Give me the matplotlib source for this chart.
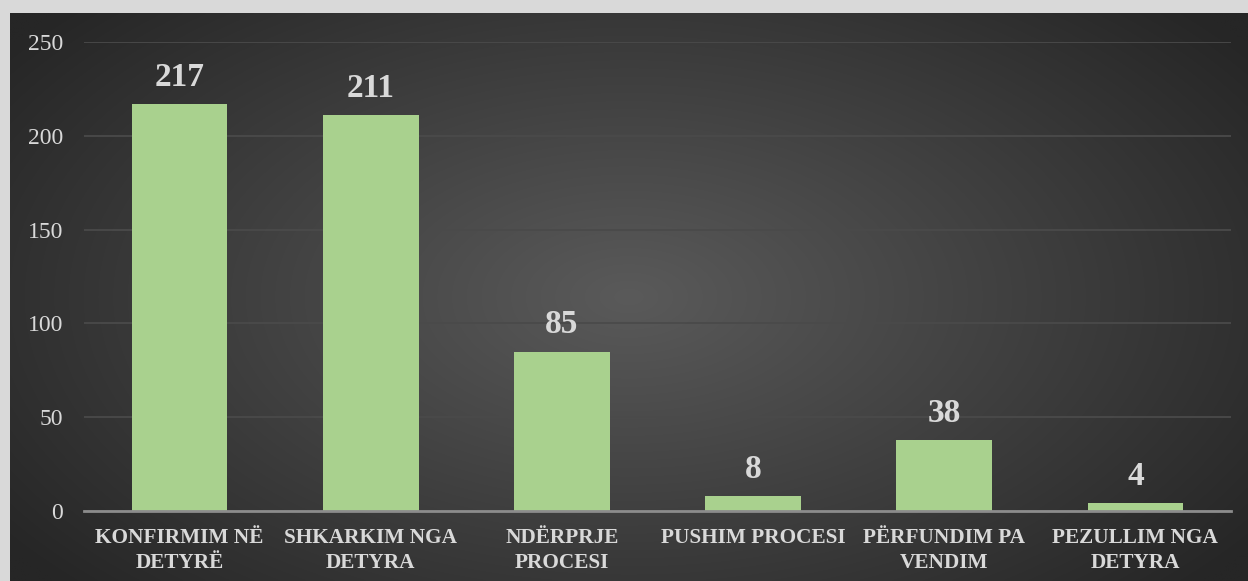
import numpy as np
import matplotlib
matplotlib.use("Agg")
import matplotlib.pyplot as plt

categories = ["KONFIRMIM NË\nDETYRË", "SHKARKIM NGA\nDETYRA", "NDËRPRJE\nPROCESI",
              "PUSHIM PROCESI", "PËRFUNDIM PA\nVENDIM", "PEZULLIM NGA\nDETYRA"]
values = [217, 211, 85, 8, 38, 4]
yticks = [0, 50, 100, 150, 200, 250]

W, H = 1248, 581
fig = plt.figure(figsize=(W / 100, H / 100), dpi=100)
fig.patch.set_facecolor("#d9d9d9")

# dark panel with radial gradient
x0, y0 = 10 / W, 0
pw, ph = 1 - x0, (H - 13) / H
bg = fig.add_axes([x0, y0, pw, ph])
bg.set_axis_off()
nx, ny = 600, 280
xx, yy = np.meshgrid(np.linspace(0, 1, nx), np.linspace(0, 1, ny))
cx, cy = 0.5, 0.5
r = np.sqrt(((xx - cx) / 0.62) ** 2 + ((yy - cy) / 0.75) ** 2)
r = np.clip(r, 0, 1)
inner, outer = 0x5a / 255, 0x26 / 255
v = inner + (outer - inner) * r
img = np.dstack([v, v, v])
bg.imshow(img, extent=[0, 1, 0, 1], aspect="auto", origin="upper", interpolation="bilinear")
bg.set_xlim(0, 1)
bg.set_ylim(0, 1)

# main axes
left, right = 84 / W, 1231 / W
bottom_px, top_px = 511, 42
ax = fig.add_axes([left, 1 - bottom_px / H, right - left, (bottom_px - top_px) / H])
ax.patch.set_alpha(0)
x = np.arange(len(categories))
bars = ax.bar(x, values, width=0.5, color="#a9d18e", zorder=3)
ax.set_xlim(-0.5, len(categories) - 0.5)
ax.set_ylim(0, 250)
ax.set_yticks(yticks)
ax.set_yticklabels([str(t) for t in yticks], fontfamily="Liberation Serif", fontsize=17, color="#d9d9d9")
ax.yaxis.grid(True, color="#4a4a4a", linewidth=1.3, zorder=0)
ax.set_axisbelow(True)
ax.tick_params(axis="y", length=0, pad=15)
ax.tick_params(axis="x", length=0, pad=12)
ax.set_xticks(x)
ax.set_xticklabels(categories, fontfamily="Liberation Serif", fontsize=15.3, fontweight="bold",
                   color="#d9d9d9", linespacing=1.35)
for s in ["top", "right", "left"]:
    ax.spines[s].set_visible(False)
ax.spines["bottom"].set_color("#8c8c8c")
ax.spines["bottom"].set_linewidth(2)
ax.spines["bottom"].set_zorder(4)

for xi, v_ in zip(x, values):
    ax.annotate(str(v_), (xi, v_), xytext=(0, 8), textcoords="offset points",
                ha="center", va="bottom", fontfamily="Liberation Serif", fontsize=24,
                fontweight="bold", color="#d9d9d9")

fig.savefig("out.png", dpi=100, facecolor=fig.get_facecolor())
